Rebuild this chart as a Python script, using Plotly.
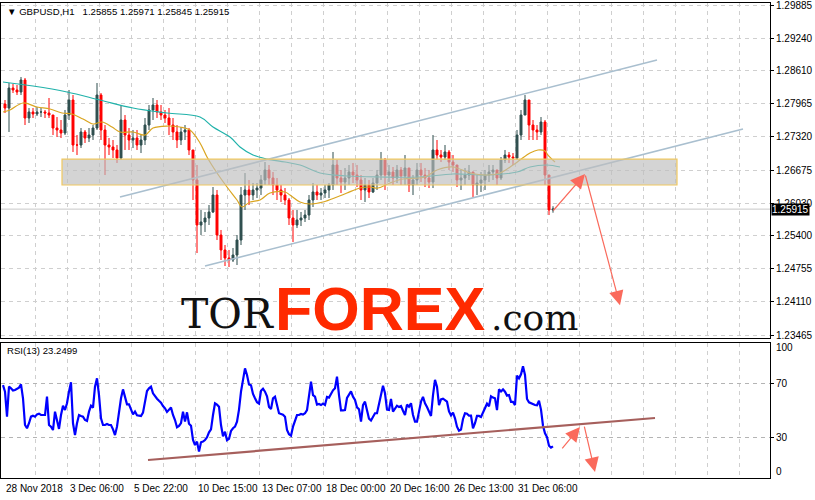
import plotly.graph_objects as go

# ---------------- data ----------------
title_text = "\u25BC GBPUSD,H1\u00a0\u00a0 1.25855 1.25971 1.25845 1.25915"
rsi_title = "RSI(13) 23.2499"
last_price = 1.25915

# 4-hour bars (bar index measured in H1 bars from the left edge)
first_open = 1.27959
highs = [
    1.28037, 1.28368, 1.28348, 1.28329, 1.28484, 1.28465, 1.27881, 1.27881, 1.27901, 1.27881,
    1.27843, 1.28076, 1.27745, 1.27706, 1.27648, 1.27843, 1.28232, 1.28134, 1.27356, 1.27492,
    1.27454, 1.27492, 1.27551, 1.28368, 1.28173, 1.27551, 1.27298, 1.27259, 1.27162, 1.27940,
    1.27745, 1.27492, 1.27454, 1.27454, 1.27356, 1.27687, 1.27940, 1.28076, 1.28037, 1.27940,
    1.27843, 1.27881, 1.27687, 1.27551, 1.27512, 1.27551, 1.27492, 1.27065, 1.26773, 1.25898,
    1.25859, 1.25995, 1.26345, 1.26287, 1.25509, 1.25217, 1.25120, 1.25158, 1.25411, 1.26345,
    1.26617, 1.26481, 1.26423, 1.26423, 1.26578, 1.26831, 1.26773, 1.26637, 1.26520, 1.26384,
    1.26325, 1.26131, 1.25898, 1.25898, 1.25859, 1.25898, 1.26189, 1.26423, 1.26384, 1.26325,
    1.26384, 1.26423, 1.27026, 1.26870, 1.26676, 1.26714, 1.26773, 1.26812, 1.26773, 1.26578,
    1.26520, 1.26481, 1.26520, 1.26676, 1.27026, 1.26909, 1.26773, 1.26734, 1.26773, 1.26734,
    1.26967, 1.26714, 1.26578, 1.26812, 1.26812, 1.26714, 1.26676, 1.27356, 1.27259, 1.27065,
    1.27162, 1.27065, 1.26967, 1.26773, 1.26676, 1.26714, 1.26773, 1.26637, 1.26578, 1.26637,
    1.26676, 1.26773, 1.26773, 1.26676, 1.26928, 1.27065, 1.27026, 1.27006, 1.27454, 1.27843,
    1.28134, 1.28037, 1.27648, 1.27551, 1.27706, 1.27648, 1.26578, 1.25971,
]
lows = [
    1.27784, 1.27415, 1.28173, 1.28134, 1.28134, 1.27551, 1.27590, 1.27687, 1.27726, 1.27706,
    1.27687, 1.27687, 1.27356, 1.27317, 1.27298, 1.27356, 1.27648, 1.27026, 1.26967, 1.27103,
    1.27201, 1.27220, 1.27259, 1.27454, 1.27259, 1.26578, 1.26967, 1.26909, 1.26812, 1.26870,
    1.27065, 1.27065, 1.27103, 1.27065, 1.27006, 1.27162, 1.27454, 1.27648, 1.27687, 1.27648,
    1.27590, 1.27356, 1.27259, 1.27103, 1.27162, 1.27259, 1.26967, 1.26092, 1.25061, 1.25411,
    1.25470, 1.25606, 1.25839, 1.25314, 1.24925, 1.24808, 1.24789, 1.24886, 1.24828, 1.25217,
    1.25898, 1.25995, 1.26092, 1.26131, 1.26189, 1.26384, 1.26384, 1.26189, 1.26092, 1.26053,
    1.25995, 1.25606, 1.25275, 1.25547, 1.25586, 1.25664, 1.25703, 1.25956, 1.26092, 1.26092,
    1.26131, 1.26131, 1.26287, 1.26384, 1.26228, 1.26287, 1.26384, 1.26423, 1.26345, 1.26092,
    1.26053, 1.26131, 1.26228, 1.26287, 1.26481, 1.26287, 1.26442, 1.26384, 1.26423, 1.26384,
    1.26384, 1.26248, 1.26189, 1.26384, 1.26442, 1.26345, 1.26325, 1.26325, 1.26870, 1.26831,
    1.26870, 1.26676, 1.26637, 1.26345, 1.26287, 1.26384, 1.26481, 1.26150, 1.26189, 1.26248,
    1.26287, 1.26442, 1.26481, 1.26384, 1.26481, 1.26812, 1.26812, 1.26773, 1.26870, 1.27259,
    1.27745, 1.27259, 1.27259, 1.27259, 1.27356, 1.26384, 1.25800, 1.25845,
]
closes = [
    1.27881, 1.28270, 1.28232, 1.28193, 1.28426, 1.27687, 1.27804, 1.27765, 1.27804, 1.27804,
    1.27784, 1.27745, 1.27492, 1.27454, 1.27395, 1.27745, 1.28037, 1.27162, 1.27162, 1.27415,
    1.27298, 1.27356, 1.27492, 1.28134, 1.27454, 1.27162, 1.27123, 1.27065, 1.26909, 1.27648,
    1.27356, 1.27259, 1.27298, 1.27162, 1.27259, 1.27551, 1.27843, 1.27940, 1.27804, 1.27745,
    1.27687, 1.27551, 1.27415, 1.27259, 1.27415, 1.27454, 1.27065, 1.26481, 1.25606, 1.25664,
    1.25742, 1.25859, 1.26189, 1.25411, 1.25120, 1.24964, 1.24925, 1.25022, 1.25314, 1.26189,
    1.26287, 1.26189, 1.26287, 1.26325, 1.26481, 1.26676, 1.26520, 1.26384, 1.26287, 1.26189,
    1.26092, 1.25742, 1.25606, 1.25703, 1.25742, 1.25800, 1.26092, 1.26248, 1.26189, 1.26228,
    1.26287, 1.26384, 1.26773, 1.26520, 1.26442, 1.26520, 1.26637, 1.26578, 1.26481, 1.26287,
    1.26384, 1.26248, 1.26423, 1.26578, 1.26870, 1.26578, 1.26637, 1.26520, 1.26676, 1.26559,
    1.26714, 1.26384, 1.26481, 1.26676, 1.26578, 1.26520, 1.26442, 1.27065, 1.26967, 1.26928,
    1.27026, 1.26831, 1.26773, 1.26481, 1.26520, 1.26578, 1.26637, 1.26384, 1.26423, 1.26481,
    1.26578, 1.26637, 1.26676, 1.26520, 1.26870, 1.26967, 1.26928, 1.26909, 1.27356, 1.27745,
    1.28037, 1.27551, 1.27454, 1.27415, 1.27609, 1.26578, 1.25898, 1.25915,
]
opens = [first_open] + closes[:-1]
bar_hours = [4 * k + 2 for k in range(len(closes))]

# moving averages (sampled)
ma_slow_hours = [0, 30, 64, 97, 130, 164, 197, 210, 227, 237, 250, 264, 282, 297, 317, 344,
                 377, 417, 450, 484, 514, 527, 544, 557]
ma_slow = [1.28387, 1.28309, 1.28193, 1.28037, 1.27881, 1.27784, 1.27706, 1.27512, 1.27317,
           1.27123, 1.26967, 1.26889, 1.26831, 1.26773, 1.26617, 1.26559, 1.26540, 1.26540,
           1.26598, 1.26578, 1.26637, 1.26734, 1.26773, 1.26734]
ma_fast_hours = [0, 7, 20, 34, 47, 59, 69, 80, 90, 99, 109, 117, 130, 142, 150, 164, 177, 187,
                 197, 204, 214, 224, 234, 239, 247, 257, 267, 282, 287, 297, 307, 320, 334, 344,
                 357, 367, 375, 387, 400, 422, 434, 450, 467, 484, 497, 510, 517, 527, 535, 542,
                 545, 552]
ma_fast = [1.27804, 1.27843, 1.27979, 1.27901, 1.27862, 1.27784, 1.27765, 1.27667, 1.27570,
           1.27609, 1.27512, 1.27415, 1.27415, 1.27356, 1.27492, 1.27531, 1.27512, 1.27454,
           1.27201, 1.26928, 1.26617, 1.26345, 1.26092, 1.25956, 1.26053, 1.26092, 1.26228,
           1.26248, 1.26189, 1.26053, 1.26014, 1.26053, 1.26150, 1.26228, 1.26325, 1.26345,
           1.26325, 1.26423, 1.26500, 1.26540, 1.26676, 1.26734, 1.26617, 1.26578, 1.26617,
           1.26773, 1.26870, 1.27006, 1.27065, 1.27045, 1.26967, 1.26831]

# RSI(13), every 2 H1 bars
rsi_hours = list(range(0, 551, 2))
rsi_values = [
    68.7, 63.8, 45.3, 67.5, 66.3, 64.6, 65.0, 65.8, 66.8, 69.2,
    58.9, 39.1, 36.7, 40.4, 45.3, 46.0, 45.3, 47.0, 47.5, 46.5,
    46.5, 46.5, 60.1, 39.1, 37.9, 35.4, 49.0, 41.1, 36.2, 46.5,
    53.4, 50.2, 55.2, 63.8, 70.7, 40.4, 31.7, 40.4, 46.5, 45.8,
    45.3, 42.8, 42.1, 49.0, 53.4, 52.0, 67.5, 73.7, 61.3, 44.1,
    39.1, 39.1, 39.9, 39.1, 39.1, 35.9, 31.7, 37.9, 49.0, 58.9,
    65.5, 58.9, 54.4, 54.4, 51.0, 47.0, 49.0, 46.3, 46.1, 45.8,
    48.3, 57.6, 64.3, 66.3, 67.5, 62.6, 60.1, 58.6, 57.1, 55.7,
    53.2, 51.5, 48.8, 50.2, 52.0, 46.5, 42.8, 37.4, 38.4, 40.6,
    49.0, 41.6, 48.5, 40.1, 38.6, 28.0, 24.3, 26.8, 19.4, 26.3,
    26.8, 28.0, 30.0, 33.7, 35.9, 46.5, 55.2, 54.2, 52.7, 39.1,
    30.7, 34.2, 27.8, 28.8, 34.7, 36.7, 37.9, 41.6, 50.5, 63.8,
    74.2, 81.1, 76.2, 69.2, 68.5, 62.1, 58.9, 55.9, 54.9, 64.5,
    66.0, 63.8, 60.4, 52.4, 51.0, 58.9,
    60.1, 53.9, 47.8, 47.3, 46.8, 45.3, 35.4, 32.2, 31.2, 37.9,
    42.8, 46.5, 46.5, 47.3, 46.8, 47.8, 50.2, 59.4, 71.2, 61.3,
    60.1, 54.2, 54.7, 53.9, 54.9, 53.9, 59.9, 59.4, 62.3, 64.8,
    66.3, 74.9, 61.3, 50.0, 50.0, 50.2, 59.1, 61.1, 64.0, 60.1,
    57.6, 52.2, 50.7, 41.6, 53.9, 56.4, 49.2, 43.8, 42.4, 44.8,
    47.8, 47.8, 54.2, 59.4, 68.2, 62.6, 50.5, 50.2, 58.4, 49.0,
    51.5, 53.4, 52.4, 53.2, 49.7, 46.5, 54.2, 52.7, 55.2, 46.5,
    41.6, 41.6, 49.0, 56.4, 59.9, 55.2, 52.4, 49.5, 45.8, 61.3,
    72.5, 67.5, 53.9, 58.1, 58.6, 57.6, 56.4, 49.2, 46.3, 48.3,
    44.1, 37.9, 34.9, 35.7, 43.6, 47.8, 47.5, 46.0, 46.0, 36.7,
    40.4, 45.8, 45.8, 45.0, 48.5, 52.7, 54.9, 53.0, 60.4, 59.4,
    58.9, 50.2, 65.5, 64.0, 65.5, 63.8, 60.9, 61.3, 56.2, 56.2,
    53.9, 75.7, 73.7, 76.7, 82.6, 76.2, 58.4, 55.9, 55.2, 54.2,
    53.9, 53.7, 57.1, 50.5, 38.6, 33.0, 30.2, 23.8, 22.3, 23.25,
]

# axis labels
price_ticks = [1.29885, 1.29240, 1.28610, 1.27965, 1.27320, 1.26675, 1.26030, 1.25400,
               1.24755, 1.24110, 1.23465]
rsi_ticks = [70, 30]
time_label_hours = [0, 64, 128, 192, 256, 320, 384, 448, 512]
time_labels = ["28 Nov 2018", "3 Dec 06:00", "5 Dec 22:00", "10 Dec 15:00", "13 Dec 07:00",
               "18 Dec 00:00", "20 Dec 16:00", "26 Dec 13:00", "31 Dec 06:00"]
grid_hours = list(range(32, 768, 32))

# drawn objects (in data units)
zone_hours = [59, 674]
zone_prices = [1.26384, 1.26889]
channel_upper = dict(h=[117, 654], p=[1.26150, 1.28815])
channel_lower = dict(h=[202, 740], p=[1.24808, 1.27473])
arrow_up = dict(h=[549, 582], p=[1.25859, 1.26598])
arrow_down = dict(h=[582, 617], p=[1.26598, 1.24047])
rsi_trend = dict(h=[145, 652], v=[13.2, 44.3])
rsi_arrow_up = dict(h=[558, 577], v=[20.6, 37.6])
rsi_arrow_down = dict(h=[581, 592], v=[39.1, 4.3])

# ---------------- figure ----------------
FONT = "Liberation Sans, Arial, sans-serif"
BULL = "#2F4F4F"
BEAR = "#FF0000"
GRID = "#cfcfcf"
ARROW = "#fa6a5c"

fig = go.Figure()
fig.add_trace(go.Candlestick(
    x=bar_hours, open=opens, high=highs, low=lows, close=closes,
    increasing=dict(line=dict(color=BULL, width=1), fillcolor=BULL),
    decreasing=dict(line=dict(color=BEAR, width=1), fillcolor=BEAR),
    whiskerwidth=0, hoverinfo="skip", xaxis="x", yaxis="y"))
fig.add_trace(go.Scatter(x=ma_slow_hours, y=ma_slow, mode="lines",
                         line=dict(color="#20b2aa", width=1.2, shape="spline"),
                         hoverinfo="skip", xaxis="x", yaxis="y"))
fig.add_trace(go.Scatter(x=ma_fast_hours, y=ma_fast, mode="lines",
                         line=dict(color="#daa520", width=1.2, shape="spline"),
                         hoverinfo="skip", xaxis="x", yaxis="y"))
fig.add_trace(go.Scatter(x=rsi_hours, y=rsi_values, mode="lines",
                         line=dict(color="#0000ff", width=2.2),
                         hoverinfo="skip", xaxis="x2", yaxis="y2"))

H = 500.0
def py(pix):
    return 1 - pix / H

xr = [-2, 767]
common_x = dict(range=xr, tickvals=grid_hours, showticklabels=False, showgrid=True,
                gridcolor=GRID, griddash="4px,4px", gridwidth=1, zeroline=False,
                showline=True, mirror=True, linecolor="black", linewidth=1, ticks="")
fig.update_layout(
    width=815, height=500, margin=dict(l=1, r=45, t=0, b=0, autoexpand=False),
    paper_bgcolor="white", plot_bgcolor="white", showlegend=False,
    font=dict(family=FONT, size=10, color="black"),
    xaxis=dict(domain=[0, 1], anchor="y", rangeslider=dict(visible=False), **common_x),
    xaxis2=dict(domain=[0, 1], anchor="y2", **common_x),
    yaxis=dict(domain=[py(338), py(3)], range=[1.23408, 1.29924], side="right",
               tickvals=price_ticks, ticktext=[f"{v:.5f}" for v in price_ticks],
               showgrid=True, gridcolor=GRID, griddash="4px,4px", zeroline=False,
               showline=True, mirror=True, linecolor="black", linewidth=1,
               ticks="outside", ticklen=3, tickcolor="black", ticklabeloverflow="allow",
               tickfont=dict(family=FONT, size=10, color="black")),
    yaxis2=dict(domain=[py(477.8), py(342.8)], range=[0, 100], side="right",
                tickvals=rsi_ticks, ticktext=[str(v) for v in rsi_ticks],
                showgrid=True, gridcolor="#b4b4b4", griddash="4px,4px", zeroline=False,
                showline=True, mirror=True, linecolor="black", linewidth=1,
                ticks="outside", ticklen=3, tickcolor="black",
                tickfont=dict(family=FONT, size=10, color="black")),
)

shapes = []
# current price line
shapes.append(dict(type="line", xref="paper", x0=0, x1=1, yref="y", y0=last_price, y1=last_price,
                   line=dict(color="#c8c8c8", width=1), layer="between"))
# channel lines
for ch in (channel_upper, channel_lower):
    shapes.append(dict(type="line", xref="x", yref="y", x0=ch["h"][0], x1=ch["h"][1],
                       y0=ch["p"][0], y1=ch["p"][1],
                       line=dict(color="#a9bfcf", width=1.6), layer="above"))
# zone rectangle
shapes.append(dict(type="rect", xref="x", yref="y", x0=zone_hours[0], x1=zone_hours[1],
                   y0=zone_prices[0], y1=zone_prices[1],
                   fillcolor="rgba(190,190,190,0.66)", line=dict(color="#f0c860", width=1.2),
                   layer="above"))
# RSI trend line
shapes.append(dict(type="line", xref="x2", yref="y2", x0=rsi_trend["h"][0], x1=rsi_trend["h"][1],
                   y0=rsi_trend["v"][0], y1=rsi_trend["v"][1],
                   line=dict(color="#a65f5c", width=2.2), layer="above"))
fig.update_layout(shapes=shapes)

ann = []
def arrow(a, xref, yref, key):
    return dict(x=a["h"][1], y=a[key][1], ax=a["h"][0], ay=a[key][0], xref=xref, yref=yref,
                axref=xref, ayref=yref, text="", showarrow=True, arrowhead=2, arrowsize=2.4,
                arrowwidth=1.2, arrowcolor=ARROW, standoff=0)
ann.append(arrow(arrow_up, "x", "y", "p"))
ann.append(arrow(arrow_down, "x", "y", "p"))
ann.append(arrow(rsi_arrow_up, "x2", "y2", "v"))
ann.append(arrow(rsi_arrow_down, "x2", "y2", "v"))

# titles
ann.append(dict(text=title_text, xref="paper", yref="paper", x=4 / 769, y=py(11),
                xanchor="left", yanchor="middle", showarrow=False,
                font=dict(family=FONT, size=9.6, color="black")))
ann.append(dict(text=rsi_title, xref="paper", yref="paper", x=4 / 769, y=py(350),
                xanchor="left", yanchor="middle", showarrow=False,
                font=dict(family=FONT, size=9.6, color="black")))
# current price tag
ann.append(dict(text=f"{last_price:.5f}", xref="paper", yref="y", x=1, y=last_price,
                xanchor="left", yanchor="middle", showarrow=False, xshift=1,
                bgcolor="black", borderpad=0, font=dict(family=FONT, size=10, color="white")))
# RSI 100 / 0 labels
ann.append(dict(text="100", xref="paper", yref="y2", x=1, y=100, xanchor="left",
                yanchor="middle", yshift=-5, xshift=4, showarrow=False,
                font=dict(family=FONT, size=10, color="black")))
ann.append(dict(text="0", xref="paper", yref="y2", x=1, y=0, xanchor="left",
                yanchor="middle", yshift=6, xshift=4, showarrow=False,
                font=dict(family=FONT, size=10, color="black")))
# time labels
for hpos, lab in zip(time_label_hours, time_labels):
    ann.append(dict(text=lab, xref="x2", yref="paper", x=hpos, y=py(488), xanchor="left",
                    yanchor="middle", xshift=1, showarrow=False,
                    font=dict(family=FONT, size=10, color="black")))
# watermark logo
ann.append(dict(text="TOR", xref="paper", yref="paper", x=275 / 769, y=py(314),
                xanchor="right", yanchor="middle", showarrow=False,
                font=dict(family="DejaVu Serif, serif", size=41, color="#111111")))
ann.append(dict(text="<b>FOREX</b>", xref="paper", yref="paper", x=272 / 769, y=py(309),
                xanchor="left", yanchor="middle", showarrow=False,
                font=dict(family="Liberation Sans, Arial, sans-serif", size=61,
                          color="#ff2a00")))
ann.append(dict(text=".com", xref="paper", yref="paper", x=488 / 769, y=py(317),
                xanchor="left", yanchor="middle", showarrow=False,
                font=dict(family="DejaVu Serif, serif", size=36, color="#111111")))
fig.update_layout(annotations=ann)

fig.write_html("out.html", config={"displayModeBar": False},
               post_script="document.body.style.margin='0px';")
